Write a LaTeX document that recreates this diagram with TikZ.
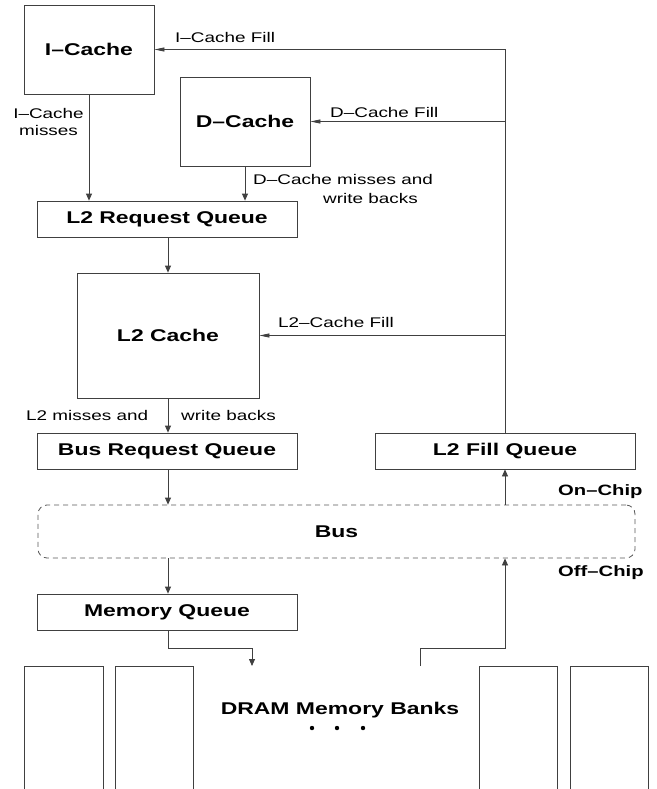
\documentclass[tikz,border=0pt]{standalone}
\usepackage{fontspec}
\setmainfont{Liberation Sans}
\usepackage{graphicx}
\usetikzlibrary{arrows.meta}
\newcommand\stretchtxt[1]{\scalebox{1.35}[1]{#1}}
\begin{document}
\begin{tikzpicture}[x=1pt,y=-1pt,
  ln/.style={draw=black!75,line width=0.8pt},
  box/.style={ln,rectangle,inner sep=0pt,font=\fontsize{17}{20}\selectfont\bfseries},
  varr/.style={ln,-{Triangle[length=7pt,width=6pt]}},
  harr/.style={ln,-{Triangle[length=10pt,width=4pt]}},
  lbl/.style={inner sep=0pt,font=\fontsize{14}{17}\selectfont},
  blbl/.style={inner sep=0pt,font=\fontsize{15}{18}\selectfont\bfseries},
  bank/.style={ln}]
\useasboundingbox (0,0) rectangle (656,789);
\fill[white] (0,0) rectangle (656,789);

% boxes
\node[box,minimum width=130pt,minimum height=89pt] (icache) at (89,49.5) {\stretchtxt{I–Cache}};
\node[box,minimum width=130pt,minimum height=89pt] (dcache) at (245,121.5) {\stretchtxt{D–Cache}};
\node[box,minimum width=260pt,minimum height=36pt] (l2rq) at (167,219) {\stretchtxt{L2 Request Queue}};
\node[box,minimum width=182pt,minimum height=125pt] (l2) at (168,335.5) {\stretchtxt{L2 Cache}};
\node[box,minimum width=260pt,minimum height=36pt] (busrq) at (167,451) {\stretchtxt{Bus Request Queue}};
\node[box,minimum width=260pt,minimum height=36pt] (fillq) at (505,451) {\stretchtxt{L2 Fill Queue}};
\node[box,draw=black!65,dash pattern=on 5pt off 4pt,rounded corners=9pt,minimum width=597pt,minimum height=53pt] (bus) at (336.5,531.5) {\stretchtxt{Bus}};
\node[box,minimum width=260pt,minimum height=36pt] (memq) at (167,612) {\stretchtxt{Memory Queue}};

% memory banks (open at the bottom)
\draw[bank] (24,789) |- (103,666) -- (103,789);
\draw[bank] (115,789) |- (193,666) -- (193,789);
\draw[bank] (479,789) |- (557,666) -- (557,789);
\draw[bank] (570,789) |- (648,666) -- (648,789);
\node[inner sep=0pt,font=\fontsize{17}{20}\selectfont\bfseries] (dram) at (340,710) {\stretchtxt{DRAM Memory Banks}};
\fill (312,728) circle (2.2pt) (337,728) circle (2.2pt) (363,728) circle (2.2pt);

% coordinates for free ends
\coordinate (mqturn) at (168,648);
\coordinate (mqin) at (252,666);
\coordinate (bankout) at (420,666);
\coordinate (bankturn) at (420,648);

% connectors
\draw[varr] (icache.south) -- (icache.south |- l2rq.north);
\draw[varr] (dcache.south) -- (dcache.south |- l2rq.north);
\draw[varr] (l2 |- l2rq.south) -- (l2.north);
\draw[varr] (l2.south) -- (l2.south |- busrq.north);
\draw[varr] (l2.south |- busrq.south) -- (l2.south |- bus.north);
\draw[varr] (l2.south |- bus.south) -- (l2.south |- memq.north);
\draw[varr] (memq.south -| mqturn) -- (mqturn) -| (mqin);
\draw[varr] (bankout) -- (bankturn) -| (bus.south -| fillq.south);
\draw[varr] (bus.north -| fillq.south) -- (fillq.south);
\draw[harr] (fillq.north) |- (icache.east);
\draw[harr] (fillq.north |- dcache.east) -- (dcache.east);
\draw[harr] (fillq.north |- l2.east) -- (l2.east);

% labels
\node[lbl,anchor=west] (licf) at (175,37) {\stretchtxt{I–Cache Fill}};
\node[lbl,align=center] (licm) at (48.5,121.5) {\stretchtxt{I–Cache}\\\stretchtxt{misses}};
\node[lbl,anchor=west] (ldcf) at (330,112) {\stretchtxt{D–Cache Fill}};
\node[lbl,anchor=west] (ldcm1) at (253,179) {\stretchtxt{D–Cache misses and}};
\node[lbl,anchor=west] (ldcm2) at (323,198) {\stretchtxt{write backs}};
\node[lbl,anchor=west] (ll2f) at (278,322) {\stretchtxt{L2–Cache Fill}};
\node[lbl,anchor=west] (ll2m1) at (26,415) {\stretchtxt{L2 misses and}};
\node[lbl,anchor=west] (ll2m2) at (181,415) {\stretchtxt{write backs}};
\node[blbl,anchor=west] (lon) at (558,492) {\stretchtxt{On–Chip}};
\node[blbl,anchor=west] (loff) at (558,573) {\stretchtxt{Off–Chip}};
\end{tikzpicture}
\end{document}
